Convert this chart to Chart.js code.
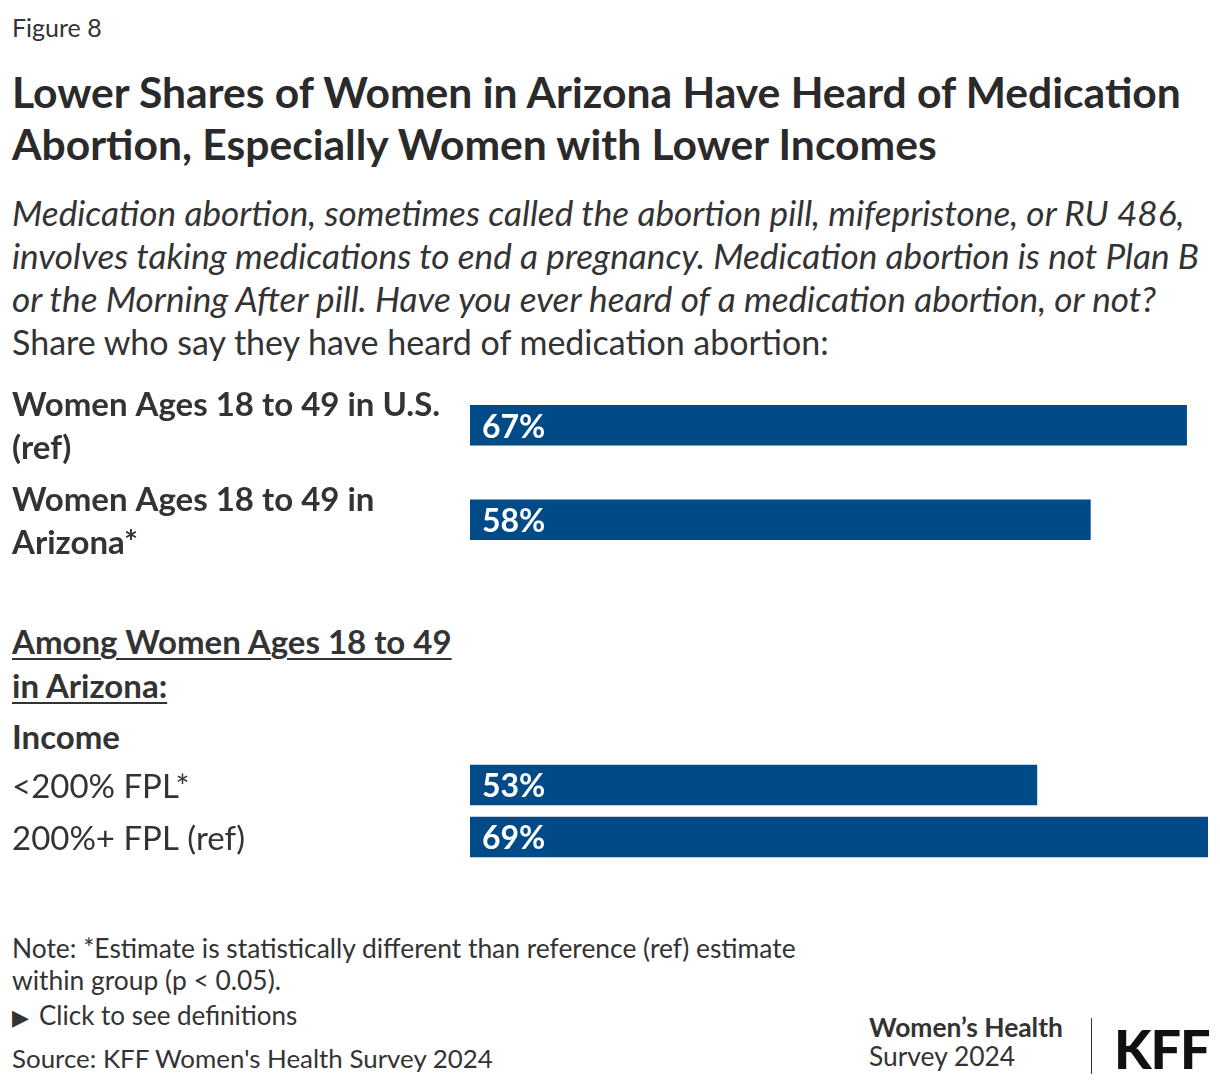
<!DOCTYPE html>
<html>
<head>
<meta charset="utf-8">
<script src="https://cdn.jsdelivr.net/npm/chart.js@4.4.1/dist/chart.umd.min.js"></script>
<style>
  body { margin: 0; width: 1220px; height: 1086px; position: relative; background: #fff;
         font-family: "Lato", sans-serif; color: #333; overflow: hidden; }
  .t { position: absolute; left: 12px; white-space: nowrap; }
  #fig { top: 12px; font-size: 25px; line-height: 30px; }
  #title { top: 66px; font-size: 42.6px; line-height: 52px; font-weight: 700; color: #2a2a2a; }
  #sub { top: 191px; font-size: 34px; line-height: 43px; }
  #sub i { font-style: italic; font-size: 35.2px; }
  #among { top: 619px; font-size: 33px; line-height: 44px; font-weight: 700; text-decoration: underline; text-underline-offset: 4px; text-decoration-thickness: 2px; }
  #income { top: 714px; font-size: 33px; line-height: 44px; font-weight: 700; }
  #note { top: 932px; font-size: 26.4px; line-height: 32px; }
  #defs { top: 999px; font-size: 26px; line-height: 32px; }
  #defs span { font-size: 22px; margin-right: 10px; }
  #src { top: 1042px; font-size: 25.9px; line-height: 32px; }
  #brand { position: absolute; left: 869px; top: 1013px; font-size: 26.4px; line-height: 29px; }
  #brand b { font-weight: 700; }
  #divider { position: absolute; left: 1091px; top: 1018px; width: 1px; height: 56px; background: #333; }
  #kff { position: absolute; left: 1114px; top: 1021px; font-size: 54px; line-height: 56px; font-weight: 900; color: #111; letter-spacing: -1px; }
  .chartBox { position: absolute; left: 0; width: 1220px; }
  #topBox { top: 378px; height: 189px; }
  #botBox { top: 759px; height: 104px; }
</style>
</head>
<body>
<div class="t" id="fig">Figure 8</div>
<div class="t" id="title">Lower Shares of Women in Arizona Have Heard of Medication<br>Abortion, Especially Women with Lower Incomes</div>
<div class="t" id="sub"><i>Medication abortion, sometimes called the abortion pill, mifepristone, or RU 486,<br>involves taking medications to end a pregnancy. Medication abortion is not Plan B<br>or the Morning After pill. Have you ever heard of a medication abortion, or not?</i><br>Share who say they have heard of medication abortion:</div>
<div class="chartBox" id="topBox"><canvas id="topChart"></canvas></div>
<div class="t" id="among">Among Women Ages 18 to 49<br>in Arizona:</div>
<div class="t" id="income">Income</div>
<div class="chartBox" id="botBox"><canvas id="botChart"></canvas></div>
<div class="t" id="note">Note: *Estimate is statistically different than reference (ref) estimate<br>within group (p &lt; 0.05).</div>
<div class="t" id="defs"><span>&#9654;</span>Click to see definitions</div>
<div class="t" id="src">Source: KFF Women's Health Survey 2024</div>
<div id="brand"><b>Women’s Health</b><br>Survey 2024</div>
<div id="divider"></div>
<div id="kff">KFF</div>

<script>
"use strict";

// data
var topLabels = [["Women Ages 18 to 49 in U.S.", "(ref)"], ["Women Ages 18 to 49 in", "Arizona*"]];
var topValues = [67, 58];
var incomeLabels = ["<200% FPL*", "200%+ FPL (ref)"];
var incomeValues = [53, 69];
var axisMax = 69;

var barColor = "#004a87";

// white value labels at the start of each bar
var valueLabels = {
    id: "valueLabels",
    afterDatasetsDraw: function(chart) {
        var ctx = chart.ctx;
        var ds = chart.data.datasets[0];
        ctx.save();
        ctx.fillStyle = "#fff";
        ctx.font = "700 32px Lato";
        ctx.textBaseline = "middle";
        ctx.textAlign = "left";
        chart.getDatasetMeta(0).data.forEach(function(bar, i) {
            ctx.fillText(ds.data[i] + "%", bar.base + 12, bar.y + 2);
        });
        ctx.restore();
    }
};

function makeChart(id, labels, values, weight) {
    return new Chart(document.getElementById(id), {
        type: "bar",
        data: {
            labels: labels,
            datasets: [{ data: values, backgroundColor: barColor, barThickness: 40 }]
        },
        options: {
            indexAxis: "y",
            responsive: true,
            maintainAspectRatio: false,
            animation: false,
            devicePixelRatio: 1,
            layout: { padding: { left: 12, right: 12, top: 0, bottom: 0 } },
            plugins: { legend: { display: false }, tooltip: { enabled: false } },
            scales: {
                x: { display: false, min: 0, max: axisMax },
                y: {
                    grid: { display: false },
                    border: { display: false },
                    afterFit: function(scale) {
                        scale.width = 458;
                        scale.paddingTop = 0;
                        scale.paddingBottom = 0;
                    },
                    ticks: {
                        crossAlign: "far",
                        labelOffset: 2,
                        color: "#333",
                        font: { family: "Lato", size: 33, weight: weight, lineHeight: 1.3 }
                    }
                }
            }
        },
        plugins: [valueLabels]
    });
}

makeChart("topChart", topLabels, topValues, "bold");
makeChart("botChart", incomeLabels, incomeValues, "normal");
</script>
</body>
</html>
